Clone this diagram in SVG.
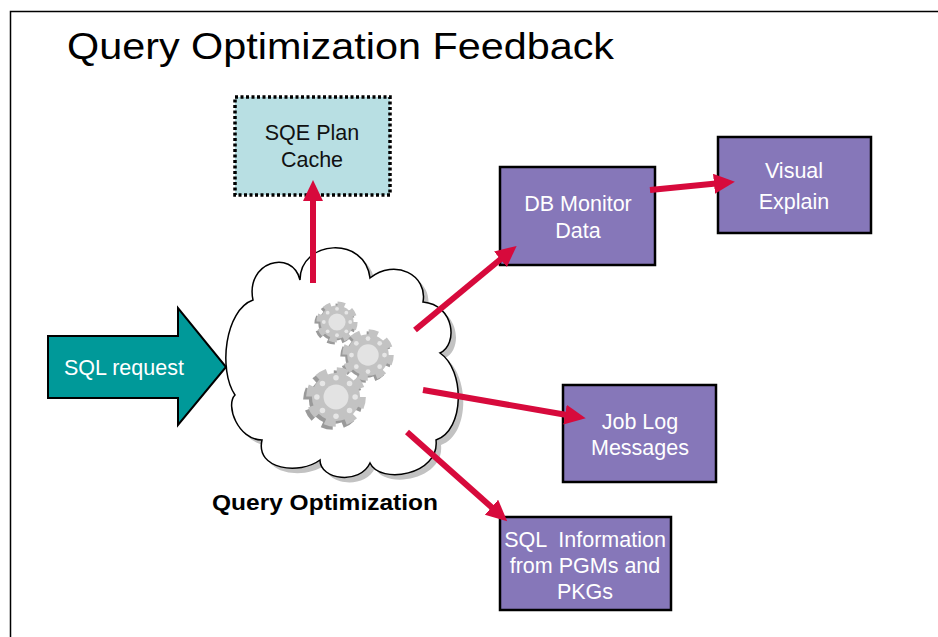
<svg xmlns="http://www.w3.org/2000/svg" xmlns:xlink="http://www.w3.org/1999/xlink" width="938" height="637" viewBox="0 0 938 637">
  <style>
    .box { fill: #8677b9; stroke: #000; stroke-width: 2.5; }
    .boxtxt { font-family: "Liberation Sans", Arial, sans-serif; font-size: 21.5px; fill: #fff; text-anchor: middle; }
    .darktxt { font-family: "Liberation Sans", Arial, sans-serif; font-size: 21.5px; fill: #111; text-anchor: middle; }
    .conn { stroke: #d70a3c; stroke-width: 6; fill: none; marker-end: url(#head); }
  </style>
  <defs>
    <marker id="head" markerUnits="userSpaceOnUse" markerWidth="24" markerHeight="22" refX="2" refY="10" orient="auto">
      <path d="M0,0 L21,10 L0,20 Z" fill="#d70a3c"/>
    </marker>
    <!-- one cog wheel, radius 10 units -->
    <g id="cog">
      <circle r="8.3" fill="#c3c3c3"/>
      <circle r="8.8" fill="none" stroke="#c3c3c3" stroke-width="3" stroke-dasharray="3.6 3.31"/>
      <circle r="4.3" fill="#e3e3e3"/>
      <g fill="#e6e6e6">
        <circle cx="6.6" cy="0" r="0.95"/>
        <circle cx="-6.6" cy="0" r="0.95"/>
        <circle cx="0" cy="6.6" r="0.95"/>
        <circle cx="0" cy="-6.6" r="0.95"/>
        <circle cx="4.67" cy="4.67" r="0.95"/>
        <circle cx="-4.67" cy="4.67" r="0.95"/>
        <circle cx="4.67" cy="-4.67" r="0.95"/>
        <circle cx="-4.67" cy="-4.67" r="0.95"/>
      </g>
    </g>
    <g id="cogShade">
      <circle r="8.3" fill="#9a9a9a"/>
      <circle r="8.8" fill="none" stroke="#9a9a9a" stroke-width="3" stroke-dasharray="3.6 3.31"/>
    </g>
    <path id="cloudShape" d="M253,300 C245,262 292,248 300,280 C300,240 365,235 370,278 C395,258 428,275 423,302 C455,305 458,345 440,353 C465,370 465,430 436,440 C440,475 380,485 370,463 C360,485 320,480 320,460 C300,475 255,470 262,440 C238,440 225,405 235,395 C218,370 225,310 253,300 Z"/>
  </defs>

  <rect width="938" height="637" fill="#fff"/>
  <!-- page frame -->
  <path d="M10.5,637 L10.5,11.5 L938,11.5" fill="none" stroke="#000" stroke-width="1.5"/>

  <text x="67" y="59" font-family="Liberation Sans, Arial, sans-serif" font-size="36" textLength="547" lengthAdjust="spacingAndGlyphs" fill="#000">Query Optimization Feedback</text>

  <!-- optimizer cloud with gears -->
  <g id="cloud">
    <use xlink:href="#cloudShape" transform="translate(5,5)" fill="#c2c2c2"/>
    <use xlink:href="#cloudShape" fill="#fff" stroke="#000" stroke-width="1.5"/>
    <g id="gears">
      <use xlink:href="#cogShade" transform="translate(335,324) scale(2)"/>
      <use xlink:href="#cog" transform="translate(337,322) scale(2)"/>
      <use xlink:href="#cogShade" transform="translate(366,357) scale(2.5)"/>
      <use xlink:href="#cog" transform="translate(368,355) scale(2.5)"/>
      <use xlink:href="#cogShade" transform="translate(333,400) scale(2.9)"/>
      <use xlink:href="#cog" transform="translate(336,397) scale(2.9)"/>
    </g>
    <text x="325" y="510" font-family="Liberation Sans, Arial, sans-serif" font-size="22" font-weight="bold" text-anchor="middle" textLength="226" lengthAdjust="spacingAndGlyphs" fill="#000">Query Optimization</text>
  </g>

  <!-- incoming request -->
  <g id="sql-request">
    <path d="M48,336 L178,336 L178,308 L226,367 L178,425 L178,398 L48,398 Z" fill="#009999" stroke="#000" stroke-width="2"/>
    <text x="64" y="375" font-family="Liberation Sans, Arial, sans-serif" font-size="21.5" fill="#fff">SQL request</text>
  </g>

  <g id="plan-cache">
    <rect x="235" y="97" width="155" height="98" fill="#b8dfe3" stroke="#000" stroke-width="3.5" stroke-dasharray="3 2.5"/>
    <text class="darktxt" x="312" y="140">SQE Plan</text>
    <text class="darktxt" x="312" y="167">Cache</text>
  </g>

  <g id="db-monitor">
    <rect class="box" x="500" y="167" width="155" height="98"/>
    <text class="boxtxt" x="578" y="211">DB Monitor</text>
    <text class="boxtxt" x="578" y="238">Data</text>
  </g>

  <g id="visual-explain">
    <rect class="box" x="718" y="137" width="153" height="96"/>
    <text class="boxtxt" x="794" y="178">Visual</text>
    <text class="boxtxt" x="794" y="209">Explain</text>
  </g>

  <g id="job-log">
    <rect class="box" x="563" y="385" width="153" height="97"/>
    <text class="boxtxt" x="640" y="429">Job Log</text>
    <text class="boxtxt" x="640" y="455">Messages</text>
  </g>

  <g id="sql-info">
    <rect class="box" x="500" y="517" width="171" height="93"/>
    <text class="boxtxt" x="585" y="547" xml:space="preserve">SQL  Information</text>
    <text class="boxtxt" x="585" y="573">from PGMs and</text>
    <text class="boxtxt" x="585" y="599">PKGs</text>
  </g>

  <g id="connectors">
    <line class="conn" x1="313" y1="283" x2="313" y2="199"/>
    <line class="conn" x1="415" y1="330" x2="502" y2="258"/>
    <line class="conn" x1="650" y1="190" x2="716" y2="183.5"/>
    <line class="conn" x1="423" y1="390" x2="567" y2="415"/>
    <line class="conn" x1="407" y1="432" x2="493" y2="508.5"/>
  </g>
</svg>
